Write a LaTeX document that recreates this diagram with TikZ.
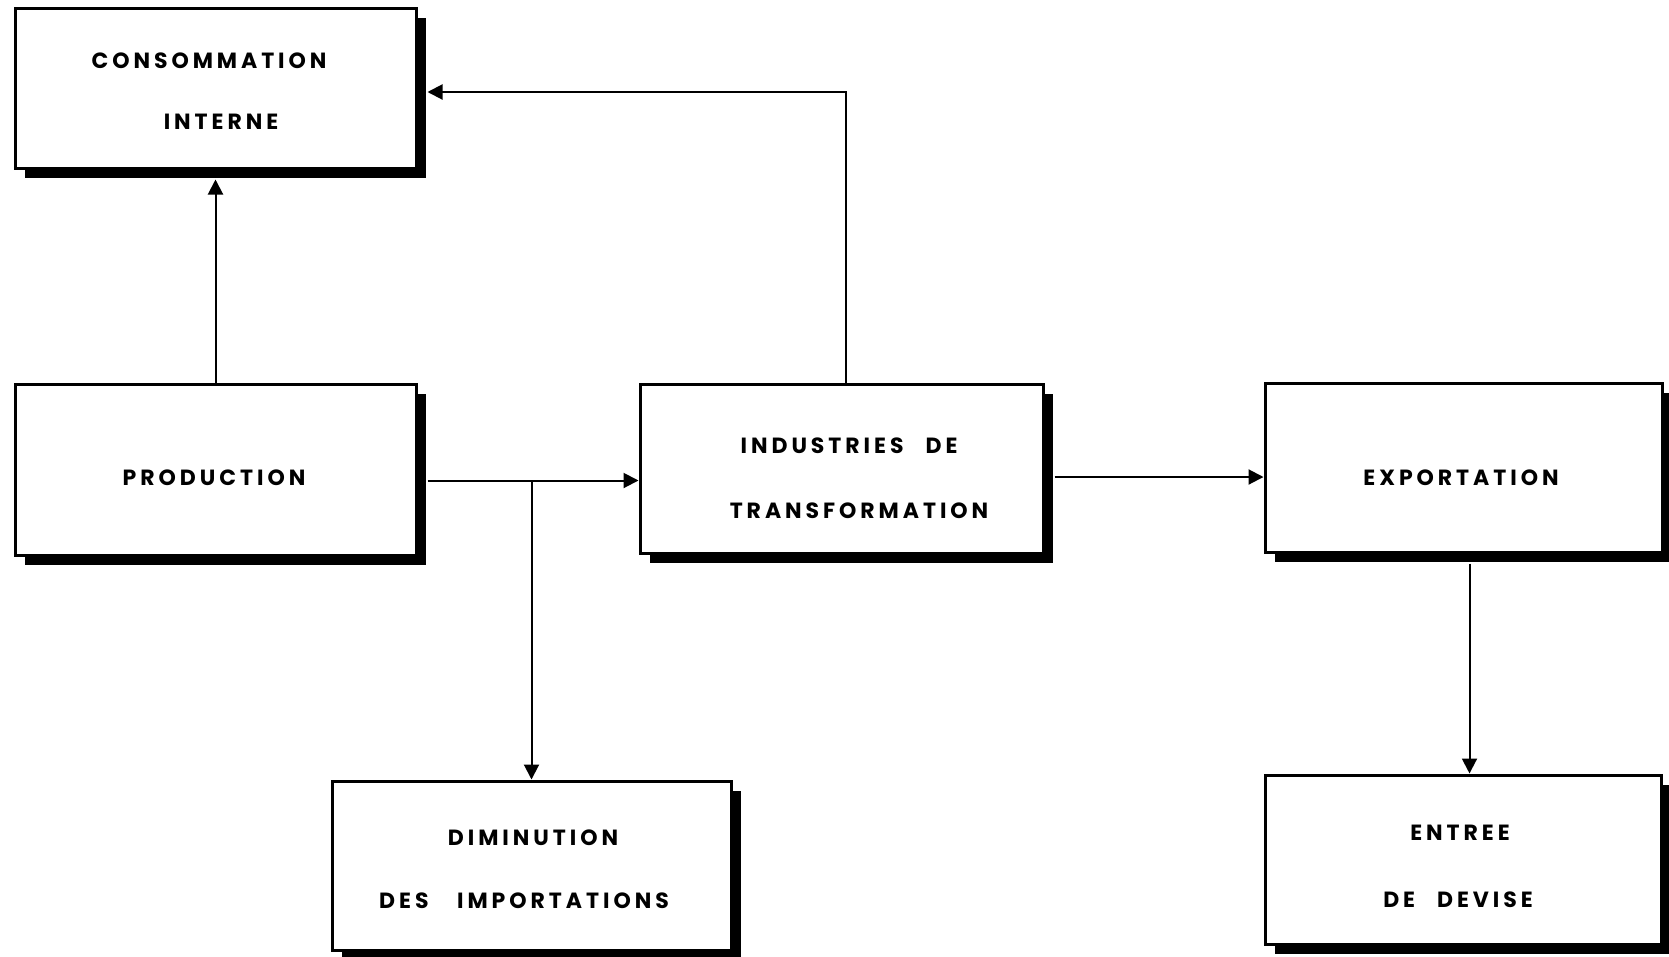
\documentclass[tikz,border=0pt]{standalone}
\usepackage{fontspec}
\setmainfont{Poppins}
\newfontfamily\lblfont[LetterSpace=18]{Poppins}
\usetikzlibrary{arrows.meta,shadows,calc}
\tikzset{
  box/.style={draw=black, line width=3pt, fill=white, inner sep=0pt,
    general shadow={fill=black, shadow xshift=10pt, shadow yshift=-10pt}},
  lbl/.style={inner sep=0pt, font=\lblfont\bfseries\fontsize{22}{26}\selectfont},
  arr/.style={line width=2pt, -{Triangle[length=15pt,width=15pt]}},
  ln/.style={line width=2pt}
}
\begin{document}
\begin{tikzpicture}[x=1pt,y=-1pt]
\useasboundingbox[fill=white] (0,0) rectangle (1669,956);
% boxes
\node[box, minimum width=401pt, minimum height=160pt] (cons) at (215.5,88) {};
\node[box, minimum width=401pt, minimum height=171pt] (prod) at (215.5,469.5) {};
\node[box, minimum width=403pt, minimum height=169pt] (ind) at (841.5,468.5) {};
\node[box, minimum width=397pt, minimum height=169pt] (exp) at (1463.5,467.5) {};
\node[box, minimum width=399pt, minimum height=169pt] (dim) at (531.5,865.5) {};
\node[box, minimum width=396pt, minimum height=169pt] (ent) at (1463,859.5) {};
% labels
\node[lbl] (consA) at (209,60.7) {CONSOMMATION};
\node[lbl] (consB) at (221,121.7) {INTERNE};
\node[lbl] (prodA) at (214,477.5) {PRODUCTION};
\node[lbl] (indA) at (849,446) {INDUSTRIES\hspace{1em}DE};
\node[lbl] (indB) at (859,511) {TRANSFORMATION};
\node[lbl] (expA) at (1461,477.5) {EXPORTATION};
\node[lbl] (dimA) at (533,838) {DIMINUTION};
\node[lbl] (dimB) at (524,901) {DES\hspace{1.3em}IMPORTATIONS};
\node[lbl] (entA) at (1460,832.5) {ENTREE};
\node[lbl] (entB) at (1458,900) {DE\hspace{1em}DEVISE};
% connectors
\draw[arr] (prod.north) -- ([yshift=-10pt]cons.south);
\draw[arr] ([xshift=4pt]ind.north) |- ([xshift=10pt,yshift=-4pt]cons.east);
\coordinate (pj) at ([xshift=10pt,yshift=-11pt]prod.east);
\draw[arr] (pj) -- (pj -| ind.west);
\draw[arr] (pj -| dim.north) -- (dim.north);
\coordinate (ij) at ([xshift=10pt,yshift=-8.5pt]ind.east);
\draw[arr] (ij) -- (ij -| exp.west);
\coordinate (ej) at ([xshift=6pt,yshift=-10pt]exp.south);
\draw[arr] (ej) -- (ej |- ent.north);
\end{tikzpicture}
\end{document}
